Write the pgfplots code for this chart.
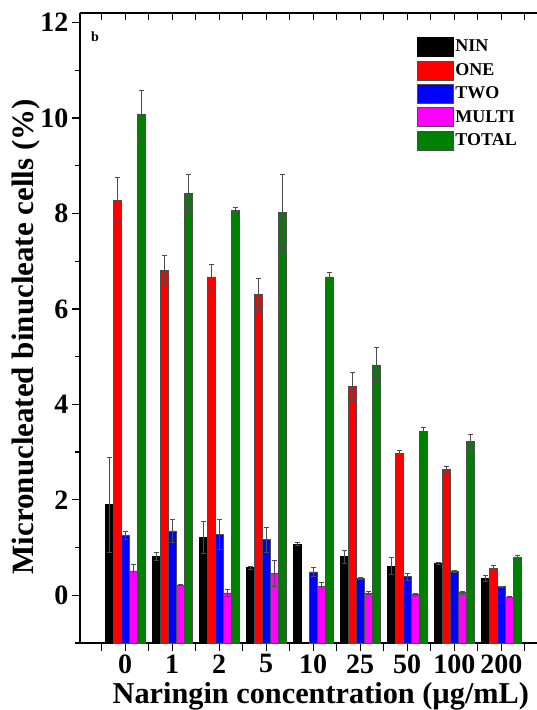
\documentclass[border=0pt]{standalone}
\usepackage{fontspec}
\setmainfont{Liberation Serif}
\usepackage{pgfplots}
\pgfplotsset{compat=1.18}
\definecolor{cNIN}{RGB}{0,0,0}
\definecolor{cONE}{RGB}{255,0,0}
\definecolor{cTWO}{RGB}{0,0,255}
\definecolor{cMULTI}{RGB}{255,0,255}
\definecolor{cTOTAL}{RGB}{0,128,0}
\begin{document}
\begin{tikzpicture}
\useasboundingbox (-80pt,-67pt) rectangle (457pt,643pt);
\begin{axis}[
  at={(0pt,0pt)}, anchor=south west,
  scale only axis, width=457pt, height=630pt,
  xmin=-0.96, xmax=8.76, ymin=-1, ymax=12.2,
  y coord trafo/.code={\pgfmathparse{#1+1}},
  y coord inv trafo/.code={\pgfmathparse{#1-1}},
  axis x line*=bottom, axis y line*=left,
  axis line style={line width=1.6pt},
  ybar=0pt, bar width=8pt,
  xtick={-0.5,0,0.5,1,1.5,2,2.5,3,3.5,4,4.5,5,5.5,6,6.5,7,7.5,8,8.5},
  xticklabels={,0,,1,,2,,5,,10,,25,,50,,100,,200,},
  ytick={0,2,4,6,8,10,12}, minor ytick={-1,1,3,5,7,9,11},
  tick align=outside, major tick length=8pt, minor tick length=5pt,
  every tick/.style={line width=1.2pt, black},
  /pgf/number format/assume math mode=true,
  ticklabel style={font=\bfseries\fontsize{28}{28}\selectfont},
  xlabel={Naringin concentration (µg/mL)},
  ylabel={Micronucleated binucleate cells (\%)},
  xlabel style={font=\bfseries\fontsize{30.3}{30.3}\selectfont, at={(axis description cs:0.527,0)}, anchor=north, yshift=-36pt},
  ylabel style={font=\bfseries\fontsize{31}{31}\selectfont, at={(axis description cs:-0.118,0.486)}, anchor=center},
  legend style={at={(rel axis cs:0.737,0.962)}, anchor=north west, draw=none, fill=none, inner sep=0pt,
    font=\bfseries\fontsize{18}{18}\selectfont, row sep=4pt},
  legend cell align=left,
  legend image code/.code={\draw[#1] (0pt,-9.5pt) rectangle (36pt,9.5pt);},
  error bars/error bar style={line width=0.5pt, black!70},
  error bars/error mark options={rotate=90, mark size=2.5pt, line width=0.6pt, black!70},
]
\addplot[fill=cNIN, draw=black, line width=0.4pt, error bars/.cd, y dir=both, y explicit] coordinates {
 (0,1.90) +- (0,1.00) (1,0.81) +- (0,0.08) (2,1.21) +- (0,0.33) (3,0.58) +- (0,0.03) (4,1.07) +- (0,0.03)
 (5,0.81) +- (0,0.13) (6,0.61) +- (0,0.18) (7,0.67) +- (0,0.03) (8,0.35) +- (0,0.06)};
\addplot[fill=cONE, draw=black!70, line width=0.4pt, error bars/.cd, y dir=both, y explicit] coordinates {
 (0,8.28) +- (0,0.47) (1,6.81) +- (0,0.32) (2,6.67) +- (0,0.27) (3,6.31) +- (0,0.33)
 (5,4.38) +- (0,0.30) (6,2.98) +- (0,0.05) (7,2.64) +- (0,0.06) (8,0.57) +- (0,0.06)};
\addplot[fill=cTWO, draw=black!70, line width=0.4pt, error bars/.cd, y dir=both, y explicit] coordinates {
 (0,1.26) +- (0,0.08) (1,1.35) +- (0,0.25) (2,1.28) +- (0,0.31) (3,1.17) +- (0,0.26) (4,0.49) +- (0,0.09)
 (5,0.35) +- (0,0.02) (6,0.39) +- (0,0.08) (7,0.51) +- (0,0.02) (8,0.18) +- (0,0.01)};
\addplot[fill=cMULTI, draw=black!70, line width=0.4pt, error bars/.cd, y dir=both, y explicit] coordinates {
 (0,0.51) +- (0,0.14) (1,0.21) +- (0,0.01) (2,0.05) +- (0,0.07) (3,0.46) +- (0,0.27) (4,0.18) +- (0,0.09)
 (5,0.05) +- (0,0.03) (6,0.02) +- (0,0.02) (7,0.06) +- (0,0.03) (8,-0.04) +- (0,0.01)};
\addplot[fill=cTOTAL, draw=black!70, line width=0.4pt, error bars/.cd, y dir=both, y explicit] coordinates {
 (0,10.08) +- (0,0.50) (1,8.42) +- (0,0.40) (2,8.06) +- (0,0.07) (3,8.02) +- (0,0.80) (4,6.67) +- (0,0.09)
 (5,4.83) +- (0,0.37) (6,3.43) +- (0,0.08) (7,3.22) +- (0,0.15) (8,0.79) +- (0,0.05)};
\legend{NIN,ONE,TWO,MULTI,TOTAL}
\node[font=\bfseries\fontsize{14}{14}\selectfont] at (rel axis cs:0.033,0.962) {b};
\end{axis}
\begin{axis}[
  at={(0pt,0pt)}, anchor=south west,
  scale only axis, width=457pt, height=630pt,
  xmin=-0.96, xmax=8.76, ymin=-1, ymax=12.2,
  axis x line*=top, axis y line=none,
  axis line style={line width=1.6pt},
  xtick={-0.5,0,0.5,1,1.5,2,2.5,3,3.5,4,4.5,5,5.5,6,6.5,7,7.5,8,8.5},
  xticklabels={},
  tick align=inside, major tick length=7pt,
  every tick/.style={line width=1.2pt, black},
]
\end{axis}
\end{tikzpicture}
\end{document}
